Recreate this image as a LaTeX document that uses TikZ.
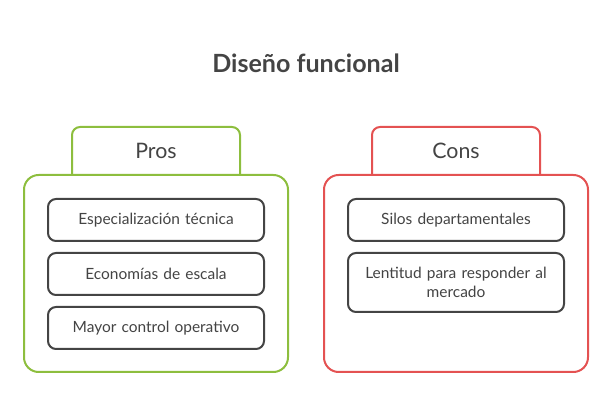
\documentclass[tikz,border=0pt]{standalone}
\usepackage{fontspec}
\setmainfont{Lato}
\usetikzlibrary{positioning}

\definecolor{prosgreen}{RGB}{141,190,62}
\definecolor{consred}{RGB}{228,82,82}
\definecolor{inkgray}{RGB}{68,68,68}

\tikzset{
  tabbox/.style={draw=#1, line width=1.5pt, fill=white, rounded corners=6pt,
    minimum width=126pt, minimum height=60pt, anchor=north, inner sep=0pt},
  panel/.style={draw=#1, line width=1.5pt, fill=white, rounded corners=11pt,
    minimum width=198pt, minimum height=147.75pt, anchor=north, inner sep=0pt},
  tablabel/.style={text=inkgray, font=\fontsize{16}{19}\selectfont},
  itembox/.style={draw=inkgray, line width=1.5pt, fill=white, rounded corners=6pt,
    minimum width=162pt, minimum height=31.5pt, anchor=north, inner sep=2pt,
    text=inkgray, align=center, text width=156pt,
    font=\fontsize{11.6}{14.5}\selectfont},
}

\begin{document}
\begin{tikzpicture}[x=0.75pt,y=-0.75pt]
  \useasboundingbox (0,0) rectangle (612,420);
  \node[text=inkgray, font=\bfseries\fontsize{18.8}{22}\selectfont] (title) at (306,63) {Diseño funcional};

  % pros
  \node[tabbox=prosgreen] (prostab) at (156,126) {};
  \node[panel=prosgreen] (prospanel) at (156,174) {};
  \node[tablabel] (proslabel) at (156,151) {Pros};
  \node[itembox] (pro1) at (156,198) {Especialización técnica};
  \node[itembox] (pro2) at (156,252) {Economías de escala};
  \node[itembox] (pro3) at (156,306) {Mayor control operativo};

  % cons
  \node[tabbox=consred] (constab) at (456,126) {};
  \node[panel=consred] (conspanel) at (456,174) {};
  \node[tablabel] (conslabel) at (456,151) {Cons};
  \node[itembox] (con1) at (456,198) {Silos departamentales};
  \node[itembox, minimum height=44.25pt] (con2) at (456,252) {Lentitud para responder al\\mercado};
\end{tikzpicture}
\end{document}
